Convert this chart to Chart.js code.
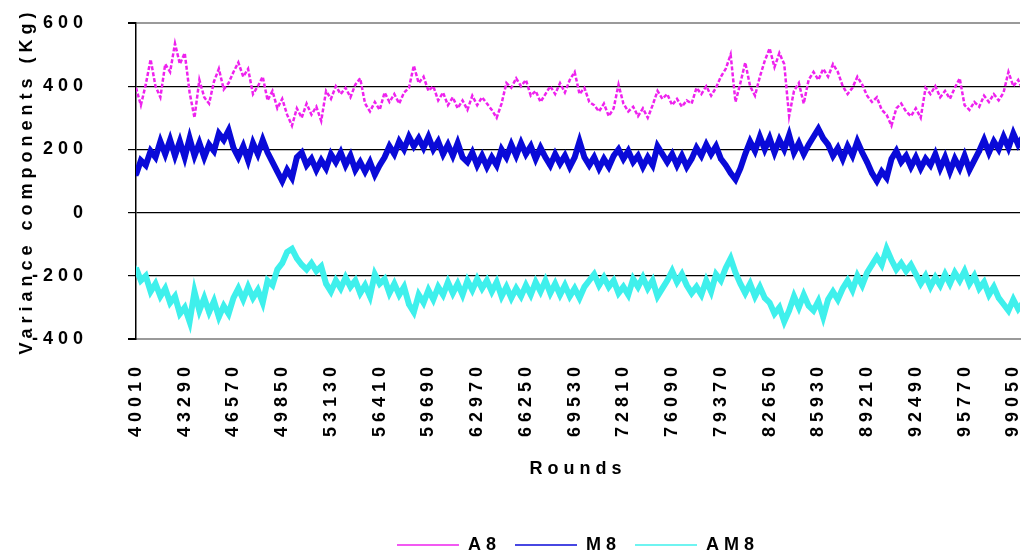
<!DOCTYPE html>
<html>
<head>
<meta charset="utf-8">
<script src="https://cdn.jsdelivr.net/npm/chart.js@4/dist/chart.umd.min.js"></script>
<style>
  html, body { margin: 0; padding: 0; background: #fff; overflow: hidden; }
  #wrap { width: 1024px; height: 550px; }
</style>
</head>
<body>
<div id="wrap"><canvas id="c" width="1024" height="550"></canvas></div>
<script>
// Simulation rounds, sampled every 328 rounds from round 40010
const firstRound = 40010;
const roundStep = 328;
const rounds = Array.from({ length: 183 }, (_, i) => firstRound + roundStep * i);

// Rounds printed along the x axis
const tickRounds = [40010, 43290, 46570, 49850, 53130, 56410, 59690, 62970, 66250,
  69530, 72810, 76090, 79370, 82650, 85930, 89210, 92490, 95770, 99050];

// Y axis ticks (Kg)
const yTicks = [-400, -200, 0, 200, 400, 600];

const seriesNames = ['A8', 'M8', 'AM8'];

// A8 variance component (Kg)
const a8 = [395,340,405,485,400,365,470,445,535,470,
  505,380,300,420,365,345,415,455,390,410,
  445,475,430,455,375,400,430,355,385,330,
  360,310,275,330,300,345,310,335,290,385,
  360,400,375,395,365,405,425,345,320,350,
  325,380,350,375,345,380,395,465,410,430,
  385,400,355,380,340,365,330,355,325,370,
  340,365,345,325,300,345,410,395,425,400,
  420,370,385,350,375,400,375,410,380,420,
  445,375,395,350,340,320,345,305,330,405,
  345,320,335,305,330,300,340,385,360,375,
  340,360,335,355,345,395,375,400,370,395,
  430,455,500,350,410,475,400,370,430,480,
  520,460,505,470,305,385,410,345,420,445,
  420,455,430,470,445,400,375,395,430,405,
  370,350,365,325,310,275,330,345,320,305,
  330,300,395,375,400,365,385,360,395,425,
  340,325,350,335,370,350,375,355,380,445,
  400,420,385];

// M8 variance component (Kg)
const m8 = [120,165,150,195,175,225,185,230,180,225,
  175,235,180,220,175,215,195,250,230,260,
  205,175,210,165,220,185,230,190,160,130,
  100,135,110,175,190,150,170,135,165,140,
  185,160,190,150,180,135,160,130,160,120,
  150,175,210,185,225,200,240,210,235,205,
  240,200,225,185,215,180,220,175,160,190,
  150,180,145,175,150,200,175,215,180,220,
  185,210,170,205,175,150,185,155,180,145,
  175,225,175,150,175,140,170,145,180,200,
  170,195,160,180,145,175,150,210,185,160,
  185,150,180,145,170,205,180,215,185,210,
  170,150,125,105,140,185,225,195,240,200,
  235,190,230,200,245,190,220,185,215,240,
  265,235,215,180,205,170,210,180,225,190,
  160,125,100,130,110,170,195,160,180,145,
  175,140,170,150,185,140,175,130,170,140,
  180,135,165,195,230,190,225,200,240,205,
  250,215,240];

// AM8 variance component (Kg)
const am8 = [-175,-215,-200,-250,-225,-265,-240,-285,-265,-320,
  -300,-345,-250,-310,-270,-315,-280,-330,-295,-320,
  -270,-240,-275,-235,-270,-245,-285,-215,-230,-180,
  -160,-125,-115,-145,-165,-180,-160,-185,-170,-225,
  -250,-215,-240,-205,-235,-215,-255,-230,-265,-195,
  -225,-210,-255,-225,-260,-235,-290,-315,-260,-285,
  -245,-275,-235,-260,-220,-255,-225,-260,-215,-245,
  -210,-240,-215,-250,-220,-265,-235,-270,-240,-265,
  -230,-260,-220,-250,-215,-255,-225,-260,-230,-265,
  -240,-270,-235,-215,-195,-230,-205,-235,-215,-255,
  -235,-260,-210,-235,-205,-240,-215,-265,-240,-215,
  -185,-220,-195,-230,-255,-235,-260,-215,-250,-195,
  -215,-175,-145,-190,-225,-255,-225,-265,-235,-270,
  -285,-320,-300,-345,-310,-265,-300,-260,-295,-310,
  -280,-330,-275,-250,-275,-240,-215,-245,-200,-230,
  -190,-165,-140,-165,-115,-150,-180,-160,-185,-165,
  -195,-225,-200,-235,-205,-230,-195,-225,-190,-215,
  -185,-225,-200,-240,-220,-260,-235,-270,-290,-310,
  -275,-305,-285];

const toPoints = vals => rounds.map((r, i) => ({ x: r, y: vals[i] }));

// Wide letter spacing used by every label on the chart
const LETTER_SPACING = '5px';
const spacingPlugin = {
  id: 'letterSpacing',
  beforeLayout(chart) { chart.ctx.letterSpacing = LETTER_SPACING; },
  beforeDraw(chart) { chart.ctx.letterSpacing = LETTER_SPACING; }
};

Chart.defaults.font.family = '"Liberation Sans", Arial, sans-serif';
Chart.defaults.font.size = 18;
Chart.defaults.font.weight = 'bold';
Chart.defaults.color = '#000';

new Chart(document.getElementById('c'), {
  type: 'line',
  data: {
    datasets: [
      {
        label: seriesNames[0],
        data: toPoints(a8),
        borderColor: '#ee22ee',
        backgroundColor: '#ee22ee',
        borderWidth: 2.5,
        borderDash: [4, 2],
        pointRadius: 0,
        tension: 0
      },
      {
        label: seriesNames[1],
        data: toPoints(m8),
        borderColor: '#0a0ad8',
        backgroundColor: '#0a0ad8',
        borderWidth: 6,
        pointRadius: 3,
        pointStyle: 'triangle',
        pointBorderWidth: 0,
        tension: 0
      },
      {
        label: seriesNames[2],
        data: toPoints(am8),
        borderColor: '#3ff0ec',
        backgroundColor: '#3ff0ec',
        borderWidth: 6,
        pointRadius: 3,
        pointStyle: 'triangle',
        pointBorderWidth: 0,
        tension: 0
      }
    ]
  },
  options: {
    responsive: false,
    animation: false,
    devicePixelRatio: 1,
    layout: { padding: { top: 23, left: 0, right: 0, bottom: 0 } },
    scales: {
      x: {
        type: 'linear',
        min: 40010,
        max: 99500,
        bounds: 'data',
        afterBuildTicks: scale => { scale.ticks = tickRounds.map(v => ({ value: v })); },
        afterFit: scale => {
          scale.height = 183;
          scale.paddingLeft = 0;
          scale.paddingRight = 0;
        },
        grid: { display: false, drawTicks: false },
        border: { display: true, color: '#9a9a9a', width: 2 },
        ticks: {
          autoSkip: false,
          minRotation: 90,
          maxRotation: 90,
          padding: 23,
          callback: v => String(v)
        },
        title: {
          display: true,
          text: 'Rounds',
          padding: { top: 0, bottom: 42 }
        }
      },
      y: {
        min: -400,
        max: 600,
        afterBuildTicks: scale => { scale.ticks = yTicks.map(v => ({ value: v })); },
        afterFit: scale => {
          scale.width = 136;
          scale.paddingTop = 0;
          scale.paddingBottom = 0;
        },
        grid: {
          color: ctx => (ctx.tick && (ctx.tick.value === 600 || ctx.tick.value === -400)) ? '#9a9a9a' : '#000',
          lineWidth: ctx => (ctx.tick && (ctx.tick.value === 600 || ctx.tick.value === -400)) ? 2 : 1.2,
          tickColor: '#000',
          tickLength: 8,
          drawTicks: true
        },
        border: { display: true, color: '#000', width: 1.5 },
        ticks: { padding: 40 },
        title: {
          display: true,
          text: 'Variance components (Kg)',
          padding: { top: 16, bottom: 0 }
        }
      }
    },
    plugins: {
      legend: {
        position: 'bottom',
        fullSize: false,
        maxHeight: 28,
        labels: {
          usePointStyle: true,
          pointStyleWidth: 62,
          padding: 14,
          color: '#000',
          generateLabels: chart => Chart.defaults.plugins.legend.labels.generateLabels(chart)
            .map(item => Object.assign(item, { pointStyle: 'line', lineWidth: 1.5 }))
        }
      },
      tooltip: { enabled: false }
    }
  },
  plugins: [spacingPlugin]
});
</script>
</body>
</html>
